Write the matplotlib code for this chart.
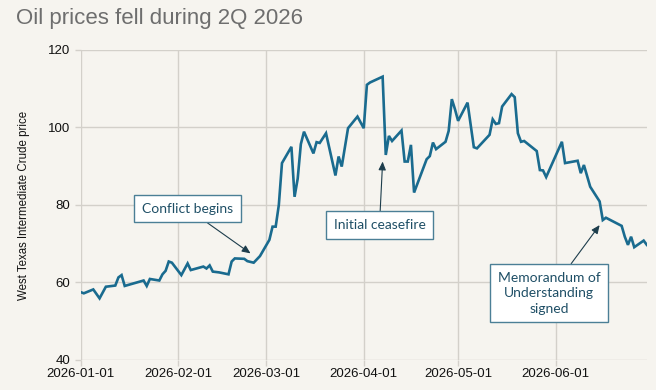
import pandas as pd
import numpy as np
import matplotlib.pyplot as plt
import matplotlib.dates as mdates

# === Données : prix du WTI ===
dates = [
    "2026-01-01", "2026-01-02", "2026-01-05", "2026-01-07", "2026-01-09", "2026-01-12",
    "2026-01-13", "2026-01-14", "2026-01-15", "2026-01-21", "2026-01-22", "2026-01-23",
    "2026-01-26", "2026-01-27", "2026-01-28", "2026-01-29", "2026-01-30", "2026-02-02",
    "2026-02-04", "2026-02-05", "2026-02-09", "2026-02-10", "2026-02-11", "2026-02-12",
    "2026-02-14", "2026-02-17", "2026-02-18", "2026-02-19", "2026-02-22", "2026-02-23",
    "2026-02-25", "2026-02-27", "2026-03-02", "2026-03-03", "2026-03-04", "2026-03-05",
    "2026-03-06", "2026-03-09", "2026-03-10", "2026-03-11", "2026-03-12", "2026-03-13",
    "2026-03-16", "2026-03-17", "2026-03-18", "2026-03-20", "2026-03-23", "2026-03-24",
    "2026-03-25", "2026-03-27", "2026-03-30", "2026-04-01", "2026-04-02", "2026-04-03",
    "2026-04-07", "2026-04-08", "2026-04-09", "2026-04-10", "2026-04-13", "2026-04-14",
    "2026-04-15", "2026-04-16", "2026-04-17", "2026-04-21", "2026-04-22", "2026-04-23",
    "2026-04-24", "2026-04-27", "2026-04-28", "2026-04-29", "2026-04-30", "2026-05-01",
    "2026-05-04", "2026-05-06", "2026-05-07", "2026-05-11", "2026-05-12", "2026-05-13",
    "2026-05-14", "2026-05-15", "2026-05-18", "2026-05-19", "2026-05-20", "2026-05-21",
    "2026-05-22", "2026-05-26", "2026-05-27", "2026-05-28", "2026-05-29", "2026-06-03",
    "2026-06-04", "2026-06-08", "2026-06-09", "2026-06-10", "2026-06-12", "2026-06-15",
    "2026-06-16", "2026-06-17", "2026-06-22", "2026-06-23", "2026-06-24", "2026-06-25",
    "2026-06-26", "2026-06-29", "2026-06-30",
]
prices = [
    57.5, 57.2, 58.2, 55.9, 58.9, 59.2,
    61.3, 61.9, 59.1, 60.5, 59.1, 60.9,
    60.5, 62.1, 63.0, 65.4, 65.1, 61.9,
    64.9, 63.2, 64.1, 63.6, 64.4, 62.8,
    62.6, 62.1, 65.4, 66.2, 66.1, 65.5,
    65.1, 66.8, 71.0, 74.4, 74.4, 80.0,
    90.8, 95.0, 82.1, 86.8, 95.7, 98.9,
    93.3, 96.2, 96.0, 98.5, 87.6, 92.5,
    89.9, 99.8, 102.8, 99.8, 111.0, 111.6,
    113.1, 92.9, 97.8, 96.5, 99.2, 91.2,
    91.2, 95.5, 83.2, 91.8, 92.6, 96.1,
    94.4, 96.3, 99.1, 107.3, 104.7, 101.7,
    106.4, 94.9, 94.6, 98.1, 102.1, 100.9,
    101.1, 105.4, 108.6, 107.8, 98.5, 96.3,
    96.5, 93.9, 89.0, 88.9, 87.2, 96.3,
    90.8, 91.4, 88.2, 90.3, 84.7, 80.9,
    76.1, 76.7, 74.6, 71.8, 69.7, 71.8,
    69.1, 70.8, 69.7,
]

# === Annotations : (texte, date pointée, valeur pointée, date boîte, valeur boîte) ===
annot_texts = ["Conflict begins", "Initial ceasefire", "Memorandum of\nUnderstanding\nsigned"]
annot_tip_dates = ["2026-02-24", "2026-04-07", "2026-06-15"]
annot_tip_values = [67.5, 91.2, 74.8]
annot_box_dates = ["2026-02-04", "2026-04-06", "2026-05-30"]
annot_box_values = [79.0, 74.8, 57.2]

x = pd.to_datetime(dates)
y = np.array(prices)

BG = "#f6f4ef"
GRID = "#d3d0ca"
LINE = "#1a6b8f"

fig = plt.figure(figsize=(6.56, 3.90), dpi=100, facecolor=BG)
ax = fig.add_axes([0.123, 0.077, 0.863, 0.795])
ax.set_facecolor(BG)

ax.plot(x, y, color=LINE, lw=1.9, solid_joinstyle="miter")

ax.set_xlim(pd.Timestamp("2026-01-01"), pd.Timestamp("2026-06-30"))
ax.set_ylim(40, 120)
ax.set_yticks([40, 60, 80, 100, 120])
ax.xaxis.set_major_locator(mdates.MonthLocator())
ax.xaxis.set_major_formatter(mdates.DateFormatter("%Y-%m-%d"))

ax.grid(True, color=GRID, lw=1.0)
ax.set_axisbelow(True)
for s in ax.spines.values():
    s.set_visible(False)
ax.tick_params(axis="both", color=GRID, length=4, width=1, labelsize=9.5,
               labelcolor="#111111")
ax.tick_params(axis="x", pad=2)
for lab in ax.get_xticklabels() + ax.get_yticklabels():
    lab.set_family("Liberation Sans")

ax.set_ylabel("West Texas Intermediate Crude price", fontsize=8.3,
              family="Liberation Sans", color="#111111", labelpad=13)

fig.text(0.024, 0.953, "Oil prices fell during 2Q 2026", fontsize=16,
         family="Liberation Sans", color="#6e6e6e", va="center", ha="left")

for txt, td, tv, bd, bv in zip(annot_texts, annot_tip_dates, annot_tip_values,
                               annot_box_dates, annot_box_values):
    ax.annotate(
        txt,
        xy=(pd.Timestamp(td), tv),
        xytext=(pd.Timestamp(bd), bv),
        ha="center", va="center", fontsize=10, family="Lato", color="#1f4f66",
        multialignment="center", linespacing=1.35,
        bbox=dict(boxstyle="square,pad=0.55", fc="white", ec="#4b7f96", lw=1.0),
        arrowprops=dict(arrowstyle="-|>,head_length=0.5,head_width=0.22",
                        color="#1d3d4c", lw=0.8, shrinkA=0, shrinkB=0),
    )

fig.savefig("out.png", dpi=100, facecolor=BG)
